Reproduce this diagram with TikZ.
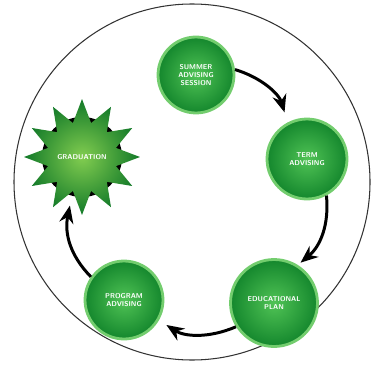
\documentclass[tikz,border=0pt]{standalone}
\usepackage{tikz}
\usetikzlibrary{arrows.meta, shapes.geometric, calc}
\definecolor{bubcore}{RGB}{80,195,85}
\definecolor{bubrim}{RGB}{20,135,45}
\definecolor{bubring}{RGB}{115,205,110}
\definecolor{starcore}{RGB}{130,205,80}
\tikzset{> = { Stealth[length = 10pt, width = 8pt] }}
\tikzset{
	bubble/.style = {circle, draw = bubring, line width = 1.6pt, inner color = bubcore, outer color = bubrim,
		text = white, align = center, font = \fontsize{4}{4.8}\selectfont\sffamily\bfseries},
	burst/.style = {star, star points = 12, star point ratio = 1.65, inner sep = 0pt, inner color = starcore,
		outer color = bubrim!90!black},
	flow/.style = {->, line width = 1.7pt, bend left = 28}
}

\begin{document}
\begin{tikzpicture}[x = 0.02cm, y = 0.02cm]
		\useasboundingbox (0, 0) rectangle (374, -371);
		\draw [line width = 0.6pt, black!80] (192, -182) circle [radius = 178];

		\node [bubble, minimum size = 1.52cm] (sess) at (196, -75) {SUMMER\\ADVISING\\SESSION};
		\node [bubble, minimum size = 1.6cm] (term) at (307, -159) {TERM\\ADVISING};
		\node [bubble, minimum size = 1.74cm] (plan) at (274, -303) {EDUCATIONAL\\PLAN};
		\node [bubble, minimum size = 1.56cm] (prog) at (124, -300) {PROGRAM\\ADVISING};

		\fill [black] (82, -157) circle [radius = 40];
		\node [burst, minimum size = 2.32cm,
			label = {[text = white, font = \fontsize{4}{4.8}\selectfont\sffamily\bfseries]center:GRADUATION}] (grad) at (82, -157) {};
		\coordinate (gradin) at ($(grad) + (256:50)$);

		\draw [flow, shorten > = 6pt] (sess.8) to (term.118);
		\draw [flow, shorten > = 2pt] (term.-62) to (plan.58);
		\draw [flow, shorten > = 5pt] (plan.212) to (prog.-30);
		\draw [flow] (prog.145) to (gradin);
	\end{tikzpicture}
\end{document}
